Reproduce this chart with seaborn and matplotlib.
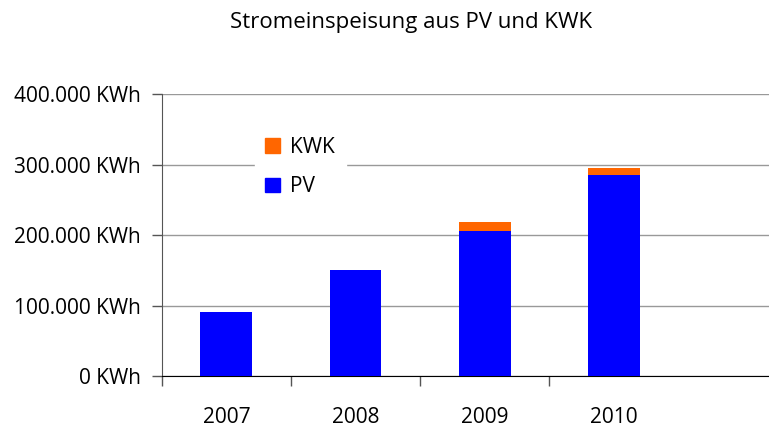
import numpy as np
import pandas as pd
import matplotlib
matplotlib.use("Agg")
import matplotlib.pyplot as plt
import seaborn as sns
from matplotlib.patches import Patch
from matplotlib.ticker import FuncFormatter

years = ["2007", "2008", "2009", "2010"]
pv = [91000, 150000, 205500, 285000]
kwk = [0, 0, 13000, 10000]

BLUE = "#0000FF"
ORANGE = "#FF6600"


def kwh_fmt(v, pos):
    return f"{int(v):,} KWh".replace(",", ".")


def main():
    sns.set_style("white")
    plt.rcParams["font.family"] = ["Open Sans", "DejaVu Sans"]

    df = pd.DataFrame({"year": years, "PV": pv, "KWK": kwk})
    df["total"] = df["PV"] + df["KWK"]

    fig = plt.figure(figsize=(7.69, 4.30), dpi=100)
    ax = fig.add_axes([0.2103, 0.1256, 0.7897, 0.6551])

    # stacked look: total (orange) underneath, PV (blue) on top
    sns.barplot(data=df, x="year", y="total", order=years, color=ORANGE,
                saturation=1, width=0.4, linewidth=0, ax=ax, zorder=2)
    sns.barplot(data=df, x="year", y="PV", order=years, color=BLUE,
                saturation=1, width=0.4, linewidth=0, ax=ax, zorder=3)

    ax.set_ylim(0, 400000)
    ax.set_xlim(-0.5, 4.2)
    ax.set_yticks(np.arange(0, 400001, 100000))
    ax.yaxis.set_major_formatter(FuncFormatter(kwh_fmt))
    ax.yaxis.grid(True, color="#999999", linewidth=1, zorder=0)
    ax.set_axisbelow(True)
    ax.set_xlabel("")
    ax.set_ylabel("")

    for s in ["top", "right"]:
        ax.spines[s].set_visible(False)
    ax.spines["left"].set_color("#555555")
    ax.spines["bottom"].set_color("black")

    ax.tick_params(axis="y", which="major", left=True, length=7, width=1,
                   color="#555555", labelsize=15, labelcolor="black", pad=8)
    ax.tick_params(axis="x", which="major", length=0, labelsize=15,
                   labelcolor="black", pad=22)
    ax.set_xticks([-0.5, 0.5, 1.5, 2.5], minor=True)
    ax.tick_params(axis="x", which="minor", bottom=True, length=7, width=1,
                   color="#555555")

    handles = [Patch(color=ORANGE, label="KWK"), Patch(color=BLUE, label="PV")]
    leg = ax.legend(handles=handles, loc="upper left",
                    bbox_to_anchor=(0.1536, 0.887), frameon=True, fontsize=15,
                    handlelength=0.7, handleheight=0.7, labelspacing=0.9,
                    handletextpad=0.5, borderpad=0.5, borderaxespad=0)
    leg.get_frame().set_facecolor("white")
    leg.get_frame().set_edgecolor("white")
    leg.get_frame().set_alpha(1)
    leg.set_zorder(5)
    for t in leg.get_texts():
        t.set_color("black")

    fig.text(0.535, 0.947, "Stromeinspeisung aus PV und KWK", ha="center",
             va="center", fontsize=16, color="black")

    fig.savefig("out.png", dpi=100)
    plt.close(fig)


if __name__ == "__main__":
    main()
